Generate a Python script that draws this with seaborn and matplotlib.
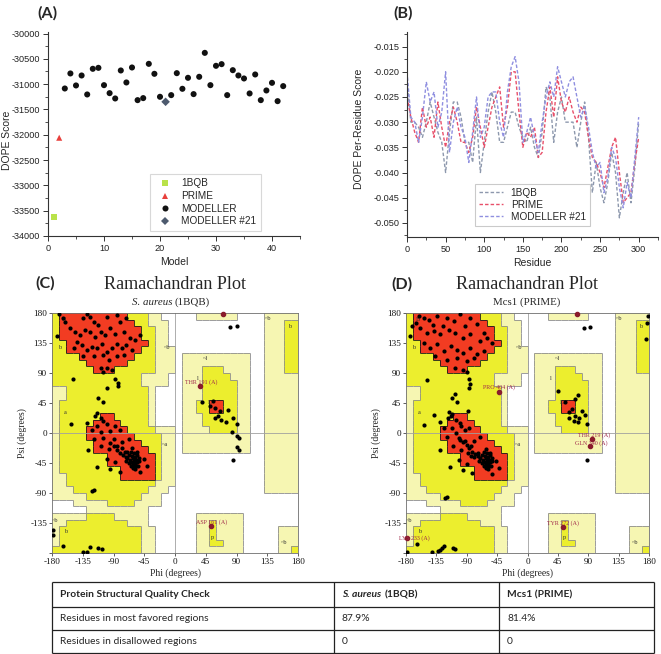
import numpy as np
import pandas as pd
import matplotlib
matplotlib.use("Agg")
import matplotlib.pyplot as plt
import seaborn as sns
from matplotlib.ticker import MultipleLocator
from matplotlib.colors import ListedColormap
from matplotlib.collections import LineCollection

# ---------------- Panel A data ----------------
model_1bqb = [1]
score_1bqb = [-33632]
model_prime = [2]
score_prime = [-32059]
model_modeller = [3, 4, 5, 6, 7, 8, 9, 10, 11, 12, 13, 14, 15, 16, 17, 18, 19, 20,
                  22, 23, 24, 25, 26, 27, 28, 29, 30, 31, 32, 33, 34, 35, 36, 37, 38, 39, 40, 41, 42]
score_modeller = [-31086, -30789, -31026, -30829, -31204, -30697, -30678, -31020, -31178, -31283,
                  -30730, -30967, -30671, -31316, -31276, -30599, -30796, -31250,
                  -31217, -30783, -31092, -30875, -31197, -30855, -30382, -31020, -30638, -30605,
                  -31217, -30724, -30829, -30888, -31184, -30809, -31316, -31125, -30974, -31336, -31039]
model_m21 = [21]
score_m21 = [-31349]

# ---------------- Panel B data ----------------
residue = list(range(0, 301, 5))
dope_1bqb = [-0.022, -0.030, -0.030, -0.031, -0.033, -0.030, -0.026, -0.029, -0.032, -0.034,
             -0.040, -0.032, -0.026, -0.026, -0.029, -0.034, -0.034, -0.038, -0.029, -0.040,
             -0.034, -0.028, -0.024, -0.028, -0.034, -0.034, -0.031, -0.028, -0.028, -0.031,
             -0.033, -0.034, -0.031, -0.035, -0.037, -0.032, -0.023, -0.025, -0.034, -0.028,
             -0.025, -0.030, -0.030, -0.030, -0.035, -0.030, -0.026, -0.033, -0.044, -0.038,
             -0.043, -0.046, -0.042, -0.036, -0.040, -0.049, -0.044, -0.040, -0.046, -0.039, -0.030]
dope_prime = [-0.025, -0.029, -0.032, -0.034, -0.027, -0.031, -0.029, -0.033, -0.026, -0.031,
              -0.035, -0.030, -0.027, -0.030, -0.034, -0.034, -0.036, -0.033, -0.027, -0.031,
              -0.035, -0.031, -0.027, -0.025, -0.023, -0.031, -0.027, -0.020, -0.020, -0.028,
              -0.035, -0.032, -0.033, -0.031, -0.037, -0.036, -0.028, -0.023, -0.029, -0.021,
              -0.026, -0.028, -0.025, -0.028, -0.030, -0.027, -0.028, -0.033, -0.037, -0.038,
              -0.040, -0.043, -0.039, -0.035, -0.033, -0.040, -0.046, -0.045, -0.044, -0.038, -0.033]
dope_m21 = [-0.020, -0.029, -0.030, -0.034, -0.029, -0.022, -0.026, -0.024, -0.031, -0.028,
            -0.020, -0.036, -0.030, -0.027, -0.031, -0.033, -0.038, -0.032, -0.025, -0.033,
            -0.031, -0.025, -0.024, -0.024, -0.030, -0.033, -0.024, -0.019, -0.017, -0.022,
            -0.034, -0.032, -0.029, -0.033, -0.036, -0.030, -0.025, -0.022, -0.025, -0.019,
            -0.022, -0.025, -0.022, -0.021, -0.025, -0.029, -0.027, -0.031, -0.036, -0.039,
            -0.038, -0.044, -0.041, -0.035, -0.037, -0.043, -0.047, -0.042, -0.045, -0.037, -0.029]

# ---------------- Ramachandran background (10 deg cells, psi 180 -> -180, phi -180 -> 180) ----
rama_rows = [
    "arrrrr rrrrra aagg.. ...ggg ggg... .ggggg",
    "arrrrr rrrrrr aaggg. ...... ...... .gggaa",
    "arrrrr rrrrrr raagg. ...... ...... .gggaa",
    "arrrrr rrrrrr raagg. ...... ...... .gggaa",
    "aarrrr rrrrrr rragg. ...... ...... .gggaa",
    "aarrrr rrrrrr raaggg ...... ...... .gggaa",
    "aaaarr rrrrrr aaaggg .ggggg ggggg. .gggaa",
    "aaaaar rrrrra aaaggg .ggggg ggggg. .gggaa",
    "aaaaaa rrraaa aaaggg .gggaa agggg. .gggaa",
    "aaaaaa aaaaaa agggg. .gggaa aaggg. .ggggg",
    "aaaaaa aaaaaa agggg. .gggaa aaagg. .ggggg",
    "ggaaaa aaaaaa aag... .gggaa aaagg. .ggggg",
    "ggaaaa aaaaaa aag... .gggaa aaagg. .ggggg",
    "gaaaaa aaaaaa aag... .ggaar raagg. .ggggg",
    "gaaaaa aaaaaa aag... .ggaar raagg. .ggggg",
    "gaaaaa arraaa aag... .gggaa aaagg. .ggggg",
    "gaaaaa rrrraa aag... .gggaa aaagg. .ggggg",
    "gaaaar rrrrra aaaggg .gggga aaagg. .ggggg",
    "gaaaar rrrrrr aaaagg .ggggg ggggg. .ggggg",
    "gaaaaa rrrrrr raaagg .ggggg ggggg. .ggggg",
    "gaaaaa rrrrrr rraagg .ggggg ggggg. .ggggg",
    "gaaaaa aarrrr rrragg ...... ...... .ggggg",
    "gaaaaa aarrrr rrragg ...... ...... .ggggg",
    "gaaaaa aaaarr rrragg ...... ...... .ggggg",
    "ggaaaa aaaarr rrragg ...... ...... .ggggg",
    "ggaaaa aaaaaa aaaggg ...... ...... .ggggg",
    "gggaaa aaaaaa aaggg. ...... ...... .ggggg",
    "ggggga aaaaaa aggg.. ...... ...... ......",
    "...ggg ggaaaa gggg.. ...... ...... ......",
    ".....g gggggg gg.... ...... ...... ......",
    "ggggga aaaggg gg.... ...ggg gggg.. ......",
    "ggaaaa aaaaag gg.... ...gga gggg.. ......",
    "gaaaaa aaaaaa agg... ...gga gggg.. ...ggg",
    "gaaaaa aaaaaa agg... ...gga gggg.. ...ggg",
    "gaaaaa aaaaaa agg... ...gga aggg.. ...ggg",
    "aaaaaa aaaaaa agg... ...ggg gggg.. ...gga",
]

region_tags = [("B", -163, 170), ("b", -169, 128), ("a", -160, 30), ("~b", -12, 128),
               ("~l", 44, 112), ("l", 34, 82), ("L", 51, 45), ("~a", -14, -17),
               ("~b", 136, 171), ("b", 168, 160), ("~b", -176, -131), ("b", -160, -148),
               ("p", 55, -157), ("~b", 160, -165)]

# ---------------- Panel C points (phi, psi) ----------------
phi_c = [-170, -172, -164, -161, -129, -134, -124, -119, -112, -100, -85, -80, -71, -153, -146,
         -139, -131, -124, -117, -109, -102, -95, -88, -75, -66, -58, -51, -144, -136, -129,
         -122, -114, -107, -100, -92, -85, -78, -71, -63, -148, -134, -119, -105, -97, -85,
         -75, -109, -100, -92, -105,
         -149, -100, -113, -105, -88, -83, -83, -152, -129, -127, -114, -122, -119,
         -114, -117, -109, -105, -122, -114, -100, -109, -95, -88, -80, -119, -105, -90, -78,
         -68, -109, -97, -85, -73, -63, -100, -88, -95, -80, -46, -41, -51, -56,
         -66, -64, -62, -60, -58, -61, -57, -55, -63, -68, -59, -54, -65, -70, -62, -56, -60,
         -52, -67, -58, -72, -64, -53, -61, -57, -90, -85, -80, -76, -72, -95, -78, -70,
         39, 56, 51, 58, 66, 78, 58, 68, 75, 85, 90, 83, 90, 94, 91, 93, 85, 63, 80, 91,
         -179, -164, -124, -134, -129, -112, -107, -178]
psi_c = [178, 146, 172, 167, 178, 172, 174, 167, 162, 174, 177, 167, 172, 157, 152,
         147, 154, 152, 144, 152, 147, 157, 149, 152, 142, 139, 147, 137, 132, 124,
         129, 127, 134, 122, 127, 134, 127, 132, 124, 127, 115, 115, 117, 110, 115,
         117, 97, 97, 95, 92,
         81, 67, 53, 47, 81, 75, 70, 14, 15, -25, -51, -87, -85,
         30, 25, 23, 18, 5, 10, 13, 1, 3, 10, 5, -9, -7, -9, -14,
         -9, -19, -24, -19, -29, -22, -39, -44, -54, -59, -39, -49, -59, -29,
         -40, -44, -38, -42, -46, -48, -40, -44, -35, -45, -36, -50, -50, -38, -52, -33, -30,
         -42, -33, -54, -42, -28, -37, -45, -49, -20, -25, -30, -33, -36, -15, -22, -28,
         47, 48, 40, 38, 33, 35, 23, 20, 16, 23, 13, 2, -4, -8, -21, -25, -41, 25, 159, 160,
         -145, -169, -171, -178, -179, -172, -174, -153]
flag_c = [("THR 191 (A)", 36, 70, 39, 76), ("ASP 161 (A)", 52, -140, 53, -134), ("", 70, 178, 0, 0)]

# ---------------- Panel D points (phi, psi) ----------------
phi_d = [-171, -174, -161, -154, -146, -134, -119, -109, -100, -85, -75, -159, -149, -139, -129,
         -117, -107, -95, -85, -70, -60, -53, -154, -144, -134, -124, -114, -105, -95, -85,
         -75, -65, -137, -119, -105, -90, -80, -107, -95, -90, -165, -140, -125, -92, -65,
         -149, -87, -85, -86, -112, -105, -107, -88, -116, -113, -138, -153, -129, -129, -115,
         -122, -119,
         -112, -118, -106, -100, -124, -112, -98, -106, -92, -86, -120, -102, -92, -80, -70,
         -110, -98, -84, -74, -62, -102, -90, -96, -82, -46, -42, -52, -56,
         -66, -64, -62, -60, -58, -61, -57, -55, -63, -68, -59, -54, -65, -70, -62, -56, -60,
         -52, -67, -58, -72, -64, -53, -61, -57, -90, -86, -82, -78, -74, -96, -100, -88, -84, -80,
         45, 62, 55, 70, 75, 66, 71, 77, 62, 69, 75, 80, 85, 88, 88, 83, 93, 178, 177, 176,
         -178, -164, -142, -133, -130, -126, -124, -110, -107]
psi_d = [160, 145, 175, 173, 170, 175, 173, 168, 178, 173, 163, 158, 150, 153, 148,
         155, 150, 143, 148, 138, 143, 135, 135, 128, 133, 123, 130, 125, 120, 128,
         118, 123, 115, 110, 113, 108, 112, 98, 95, 92, 165, 162, 160, 160, 150,
         80, 81, 73, 68, 52, 46, 58, 33, 31, 26, 27, 12, 16, -26, -51,
         -98, -96,
         28, 22, 20, 15, 8, 8, 10, 0, 4, 8, -6, -8, -12, -12, -6,
         -20, -26, -20, -30, -24, -40, -46, -56, -60, -42, -52, -62, -30,
         -40, -44, -38, -42, -46, -48, -40, -44, -35, -45, -36, -50, -50, -38, -52, -33, -30,
         -42, -33, -54, -42, -28, -37, -45, -49, -18, -22, -28, -32, -35, -14, -10, -30, -34, -36,
         63, 31, 46, 51, 57, 36, 26, 22, 23, 18, 16, 33, 27, 13, -40, 158, 159, 175, 165, 141,
         -178, -167, -178, -177, -176, -172, -169, -172, -174]
flag_d = [("PRO 404 (A)", -42, 62, -42, 69), ("THR 219 (A)", 96, -9, 98, -3),
          ("GLN 340 (A)", 93, -20, 94, -15), ("TYR 272 (A)", 53, -141, 53, -135),
          ("LYS 233 (A)", -178, -157, -168, -157), ("", 73, 178, 0, 0)]

# ---------------- Table ----------------
table_header = ["Protein Structural Quality Check", "S. aureus", "(1BQB)", "Mcs1 (PRIME)"]
table_rows = [["Residues in most favored regions", "87.9%", "81.4%"],
              ["Residues in disallowed regions", "0", "0"]]

# =======================================================================
sns.set_theme(style="ticks")
plt.rcParams["font.family"] = ["Liberation Sans", "DejaVu Sans"]
plt.rcParams["axes.unicode_minus"] = False

W, H = 661, 654
fig = plt.figure(figsize=(W / 100, H / 100), dpi=100)


def box(l, t, r, b):
    return [l / W, 1 - b / H, (r - l) / W, (b - t) / H]


def ftext(x, y, s, **kw):
    fig.text(x / W, 1 - y / H, s, **kw)


def style_xy(ax):
    for sp in ["top", "right"]:
        ax.spines[sp].set_visible(False)
    for sp in ["left", "bottom"]:
        ax.spines[sp].set_color("#333333")
        ax.spines[sp].set_linewidth(0.8)
    ax.tick_params(which="major", direction="out", length=3.5, width=0.7, colors="#333333",
                   labelsize=6.6, labelcolor="#222222", pad=2)
    ax.tick_params(which="minor", direction="out", length=2, width=0.6, colors="#333333")


# ---------------- Panel A ----------------
axA = fig.add_axes(box(48, 32, 300, 236))
dfA = pd.DataFrame({
    "Model": model_1bqb + model_prime + model_modeller + model_m21,
    "DOPE Score": score_1bqb + score_prime + score_modeller + score_m21,
    "src": ["1BQB"] * len(model_1bqb) + ["PRIME"] * len(model_prime)
           + ["MODELLER"] * len(model_modeller) + ["MODELLER #21"] * len(model_m21),
})
sns.scatterplot(data=dfA, x="Model", y="DOPE Score", hue="src", style="src", ax=axA,
                hue_order=["1BQB", "PRIME", "MODELLER", "MODELLER #21"],
                style_order=["1BQB", "PRIME", "MODELLER", "MODELLER #21"],
                palette={"1BQB": "#b9e24a", "PRIME": "#e8403c", "MODELLER": "#111111",
                         "MODELLER #21": "#4d5a6e"},
                markers={"1BQB": "s", "PRIME": "^", "MODELLER": "o", "MODELLER #21": "D"},
                s=19, linewidth=0)
axA.set_xlim(0, 45)
axA.set_ylim(-34000, -29970)
axA.xaxis.set_major_locator(MultipleLocator(10))
axA.xaxis.set_minor_locator(MultipleLocator(5))
axA.yaxis.set_major_locator(MultipleLocator(500))
axA.yaxis.set_minor_locator(MultipleLocator(250))
style_xy(axA)
axA.set_xlabel("Model", fontsize=7.5, labelpad=3)
axA.set_ylabel("DOPE Score", fontsize=7.5)
axA.yaxis.set_label_coords(-0.142, 0.47)
sns.move_legend(axA, "lower right", bbox_to_anchor=(0.865, 0.0), title=None, frameon=True,
                fontsize=7.2, handletextpad=0.6, borderpad=0.5, labelspacing=0.25,
                markerscale=1.0)
legA = axA.get_legend()
legA.get_frame().set_edgecolor("#cfcfcf")
legA.get_frame().set_linewidth(0.8)
legA.get_frame().set_boxstyle("square", pad=0)

# ---------------- Panel B ----------------
axB = fig.add_axes(box(407, 32, 658, 237))
dfB = pd.DataFrame({
    "Residue": residue * 3,
    "score": dope_1bqb + dope_prime + dope_m21,
    "model": ["1BQB"] * len(residue) + ["PRIME"] * len(residue) + ["MODELLER #21"] * len(residue),
})
sns.lineplot(data=dfB, x="Residue", y="score", hue="model", style="model", ax=axB,
             hue_order=["1BQB", "PRIME", "MODELLER #21"],
             palette={"1BQB": "#8d98ad", "PRIME": "#e8506a", "MODELLER #21": "#8f8fe0"},
             dashes={"1BQB": (2.5, 1.5), "PRIME": (2.5, 1.5), "MODELLER #21": (2.5, 1.5)},
             linewidth=1.0)
axB.set_xlim(0, 325)
axB.set_ylim(-0.0528, -0.0121)
axB.xaxis.set_major_locator(MultipleLocator(50))
axB.xaxis.set_minor_locator(MultipleLocator(25))
axB.yaxis.set_major_locator(MultipleLocator(0.005))
axB.yaxis.set_minor_locator(MultipleLocator(0.0025))
axB.yaxis.set_major_formatter(matplotlib.ticker.FormatStrFormatter("%.3f"))
style_xy(axB)
axB.set_xlabel("Residue", fontsize=7.5, labelpad=3)
axB.set_ylabel("DOPE Per-Residue Score", fontsize=7.5)
axB.yaxis.set_label_coords(-0.172, 0.53)
sns.move_legend(axB, "lower left", bbox_to_anchor=(0.25, 0.03), title=None, frameon=True,
                fontsize=7.2, handlelength=2.4, handletextpad=0.8, borderpad=0.4,
                labelspacing=0.2)
legB = axB.get_legend()
legB.get_frame().set_edgecolor("#bdbdbd")
legB.get_frame().set_linewidth(0.8)
legB.get_frame().set_boxstyle("square", pad=0)

# ---------------- Ramachandran panels ----------------
cmap = ListedColormap(["#ffffff", "#f6f6b2", "#ecee2e", "#f23c22"])
code = {".": 0, "g": 1, "a": 2, "r": 3}
grid = np.array([[code[ch] for ch in row.replace(" ", "")] for row in rama_rows])[::-1]
edges = np.arange(-180, 181, 10)
serif = ["Liberation Serif", "DejaVu Serif"]


def draw_rama(ax, phis, psis, flags):
    ax.pcolormesh(edges, edges, grid, cmap=cmap, vmin=-0.5, vmax=3.5, shading="flat", zorder=0)
    dark, gray = [], []
    n = grid.shape[0]
    for i in range(n):
        for j in range(n):
            v = grid[i, j]
            if j < n - 1 and grid[i, j + 1] != v:
                seg = [(edges[j + 1], edges[i]), (edges[j + 1], edges[i + 1])]
                (dark if max(v, grid[i, j + 1]) == 3 else gray).append(seg)
            if i < n - 1 and grid[i + 1, j] != v:
                seg = [(edges[j], edges[i + 1]), (edges[j + 1], edges[i + 1])]
                (dark if max(v, grid[i + 1, j]) == 3 else gray).append(seg)
    ax.add_collection(LineCollection(gray, colors="#8c8c8c", linewidths=0.6, zorder=1))
    ax.add_collection(LineCollection(dark, colors="#1a1a1a", linewidths=0.6, zorder=1))
    ax.axvline(0, color="#a0a0a0", lw=0.6, zorder=1)
    ax.axhline(0, color="#a0a0a0", lw=0.6, zorder=1)
    for t, x, y in region_tags:
        ax.text(x, y, t, fontsize=4.5, family=serif, color="#333333", ha="center", va="center",
                zorder=2)
    sns.scatterplot(x=phis, y=psis, ax=ax, color="#000000", s=9, linewidth=0, zorder=3,
                    legend=False)
    for lab, px, py, tx, ty in flags:
        ax.scatter([px], [py], s=9, color="#8a1c2c", zorder=4, clip_on=False)
        if lab:
            ax.text(tx, ty, lab, fontsize=4.3, family=serif, color="#a0284a", ha="center",
                    va="center", zorder=4, clip_on=False)
    ax.set_xlim(-180, 180)
    ax.set_ylim(-180, 180)
    ticks = list(range(-180, 181, 45))
    ax.set_xticks(ticks)
    ax.set_xticklabels([str(t) for t in ticks], family=serif, fontsize=6.6)
    ax.set_yticks(ticks)
    ax.set_yticklabels([""] + [str(t) for t in ticks[1:]], family=serif, fontsize=6.6)
    ax.tick_params(direction="out", length=2, width=0.6, colors="#444444", labelcolor="#111111",
                   pad=1.5)
    for sp in ax.spines.values():
        sp.set_color("#6e6e6e")
        sp.set_linewidth(0.6)
    ax.set_xlabel("Phi (degrees)", family=serif, fontsize=6.9, labelpad=1.5)
    ax.set_ylabel("Psi (degrees)", family=serif, fontsize=6.9, labelpad=2)


axC = fig.add_axes(box(52, 313, 298, 553))
draw_rama(axC, phi_c, psi_c, flag_c)
axD = fig.add_axes(box(406, 313, 649, 553))
draw_rama(axD, phi_d, psi_d, flag_d)

# ---------------- Titles ----------------
bold_sans = ["Lato", "DejaVu Sans"]
ftext(47, 13, "(A)", fontsize=11.5, fontweight="bold", family=bold_sans, ha="center", va="center")
ftext(403, 13, "(B)", fontsize=11.5, fontweight="bold", family=bold_sans, ha="center", va="center")
ftext(45, 283, "(C)", fontsize=11.5, fontweight="bold", family=bold_sans, ha="center", va="center")
ftext(402, 284, "(D)", fontsize=11.5, fontweight="bold", family=bold_sans, ha="center", va="center")
ftext(175, 285, "Ramachandran Plot", fontsize=13.1, family=serif, ha="center", va="center")
ftext(527, 285, "Ramachandran Plot", fontsize=13.1, family=serif, ha="center", va="center")
ftext(172, 302, "S. aureus", fontsize=7.8, family=serif, style="italic", ha="right", va="center")
ftext(175, 302, "(1BQB)", fontsize=7.8, family=serif, ha="left", va="center")
ftext(527, 302, "Mcs1 (PRIME)", fontsize=7.8, family=serif, ha="center", va="center")

# ---------------- Table ----------------
axT = fig.add_axes(box(52, 582, 654, 653))
axT.set_xlim(0, 602)
axT.set_ylim(71, 0)
axT.axis("off")
col_x = [0, 282, 447, 602]
row_y = [0, 25, 48, 71]
for y in row_y:
    axT.plot([0, 602], [y, y], color="#222222", lw=0.9, solid_capstyle="butt", clip_on=False)
for x in col_x:
    axT.plot([x, x], [0, 71], color="#222222", lw=0.9, solid_capstyle="butt", clip_on=False)
tfam = ["Lato", "DejaVu Sans"]
pad = 8
axT.text(col_x[0] + pad, 12.5, table_header[0], fontsize=7.4, fontweight="bold", family=tfam,
         va="center")
axT.text(col_x[1] + pad, 12.5, table_header[1], fontsize=7.4, fontweight="bold", style="italic",
         family=tfam, va="center")
axT.text(col_x[1] + pad + 43, 12.5, table_header[2], fontsize=7.4, fontweight="bold", family=tfam,
         va="center")
axT.text(col_x[2] + pad, 12.5, table_header[3], fontsize=7.4, fontweight="bold", family=tfam,
         va="center")
for r, row in enumerate(table_rows):
    yc = (row_y[r + 1] + row_y[r + 2]) / 2
    for c, val in enumerate(row):
        axT.text(col_x[c] + pad, yc, val, fontsize=7.4, family=tfam, va="center")

fig.savefig("out.png", dpi=100)
